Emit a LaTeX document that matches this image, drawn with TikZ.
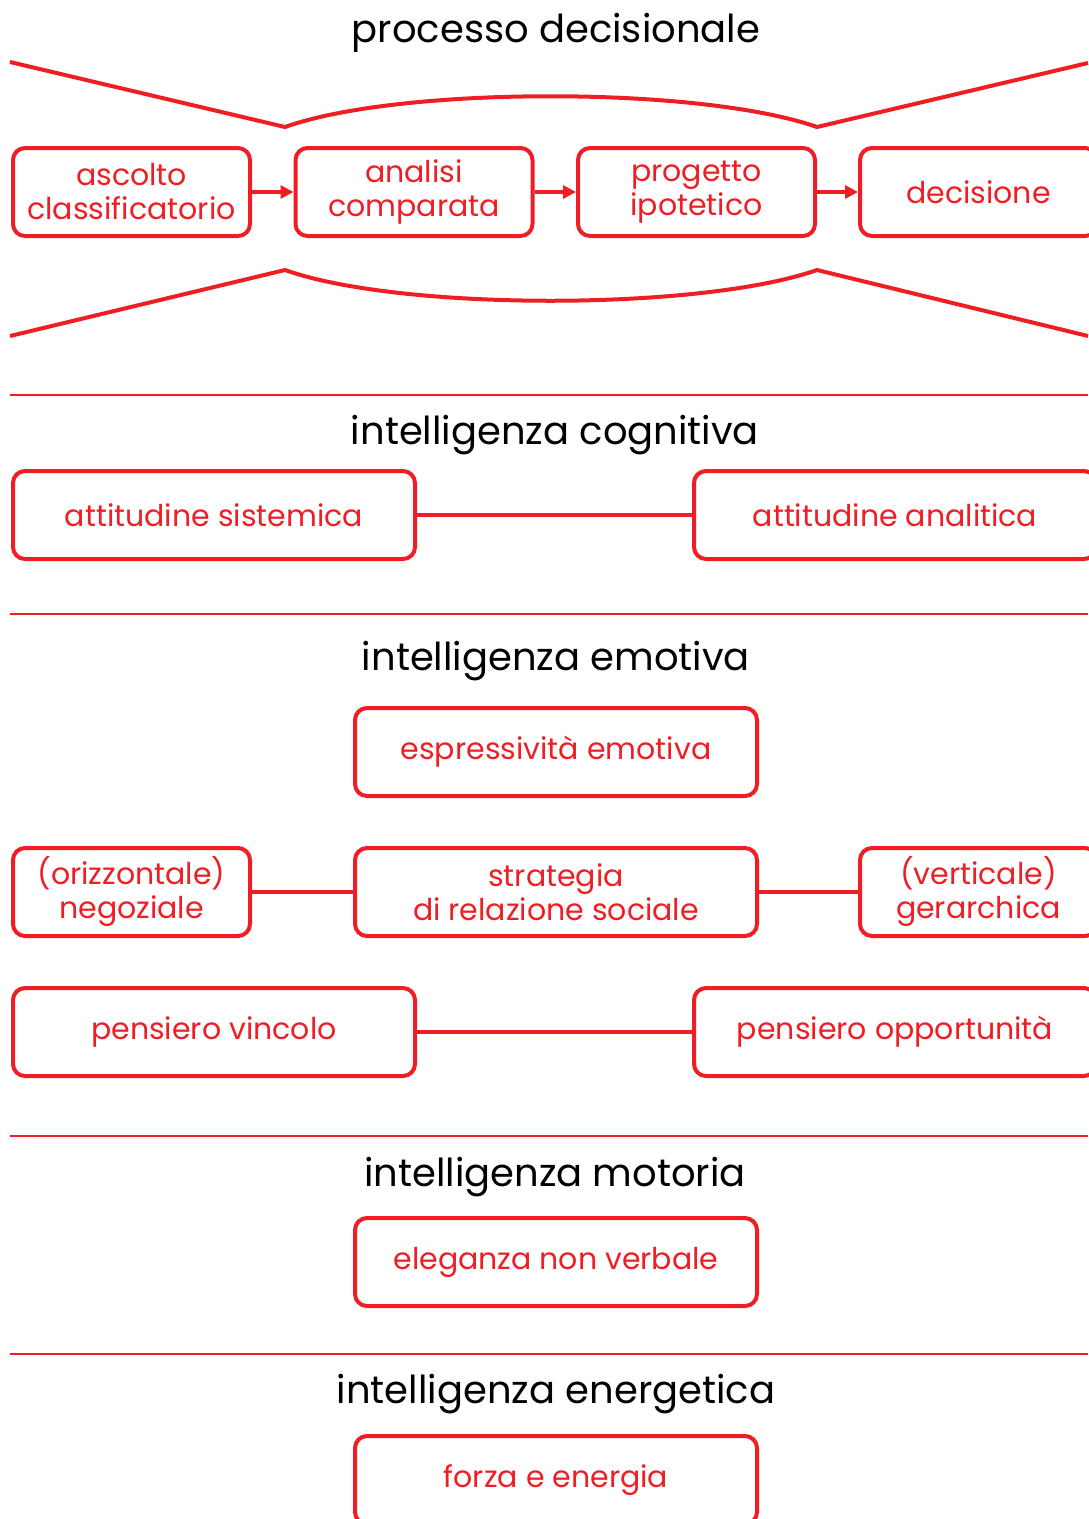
\documentclass[tikz,border=0pt]{standalone}
\usepackage{fontspec}
\setmainfont{Poppins}
\usetikzlibrary{arrows.meta,positioning}
\definecolor{boxred}{RGB}{238,30,36}

\begin{document}
\begin{tikzpicture}[x=1pt, y=-1pt,
    box/.style={draw=boxred, line width=4pt, rounded corners=12pt, text=boxred,
      minimum height=88pt, align=center, font=\fontsize{30}{34}\selectfont, inner sep=0pt},
    smallbox/.style={box, minimum width=237pt},
    widebox/.style={box, minimum width=402pt},
    title/.style={font=\fontsize{38.5}{42}\selectfont, text=black},
    link/.style={draw=boxred, line width=3.5pt},
    flow/.style={link, -{Triangle[length=13pt,width=13pt]}},
    sepline/.style={draw=boxred, line width=2.5pt},
    funnel/.style={draw=boxred, line width=4pt}]
    \useasboundingbox (0,0) rectangle (1088,1519);

    % processo decisionale
    \node[title] (t1) at (556,33) {processo decisionale};
    \node[smallbox] (ascolto) at (131.5,192) {ascolto\\classificatorio};
    \node[smallbox] (analisi) at (414,192) {analisi\\comparata};
    \node[smallbox] (progetto) at (696.5,192) {progetto\\ipotetico};
    \node[smallbox] (decisione) at (978.5,192) {decisione};
    \draw[flow] (ascolto) -- (analisi);
    \draw[flow] (analisi) -- (progetto);
    \draw[flow] (progetto) -- (decisione);

    % funnel
    \coordinate (ftl) at (10,62);
    \coordinate (ftm1) at (285,127);
    \coordinate (ftm2) at (817,127);
    \coordinate (ftr) at (1088,63);
    \coordinate (fbl) at (10,336);
    \coordinate (fbm1) at (285,270);
    \coordinate (fbm2) at (817,270);
    \coordinate (fbr) at (1088,336);
    \draw[funnel] (ftl) -- (ftm1) .. controls (400,86) and (700,86) .. (ftm2) -- (ftr);
    \draw[funnel] (fbl) -- (fbm1) .. controls (400,311) and (700,311) .. (fbm2) -- (fbr);

    \coordinate (s1l) at (10,395);
    \coordinate (s1r) at (1088,395);
    \draw[sepline] (s1l) -- (s1r);

    % intelligenza cognitiva
    \node[title] (t2) at (555,435) {intelligenza cognitiva};
    \node[widebox] (sistemica) at (214,515) {attitudine sistemica};
    \node[widebox] (analitica) at (895,515) {attitudine analitica};
    \draw[link] (sistemica) -- (analitica);

    \coordinate (s2l) at (10,614);
    \coordinate (s2r) at (1088,614);
    \draw[sepline] (s2l) -- (s2r);

    % intelligenza emotiva
    \node[title] (t3) at (556,661) {intelligenza emotiva};
    \node[widebox] (espressivita) at (556,752) {espressività emotiva};
    \node[widebox] (strategia) at (556,892) {strategia\\di relazione sociale};
    \node[smallbox] (negoziale) at (131.5,892) {(orizzontale)\\negoziale};
    \node[smallbox] (gerarchica) at (978.5,892) {(verticale)\\gerarchica};
    \draw[link] (negoziale) -- (strategia);
    \draw[link] (strategia) -- (gerarchica);
    \node[widebox] (vincolo) at (214,1032) {pensiero vincolo};
    \node[widebox] (opportunita) at (895,1032) {pensiero opportunità};
    \draw[link] (vincolo) -- (opportunita);

    \coordinate (s3l) at (10,1136);
    \coordinate (s3r) at (1088,1136);
    \draw[sepline] (s3l) -- (s3r);

    % intelligenza motoria
    \node[title] (t4) at (555,1177) {intelligenza motoria};
    \node[widebox] (eleganza) at (556,1262) {eleganza non verbale};

    \coordinate (s4l) at (10,1354);
    \coordinate (s4r) at (1088,1354);
    \draw[sepline] (s4l) -- (s4r);

    % intelligenza energetica
    \node[title] (t5) at (556,1394) {intelligenza energetica};
    \node[widebox] (forza) at (556,1480) {forza e energia};
\end{tikzpicture}
\end{document}
